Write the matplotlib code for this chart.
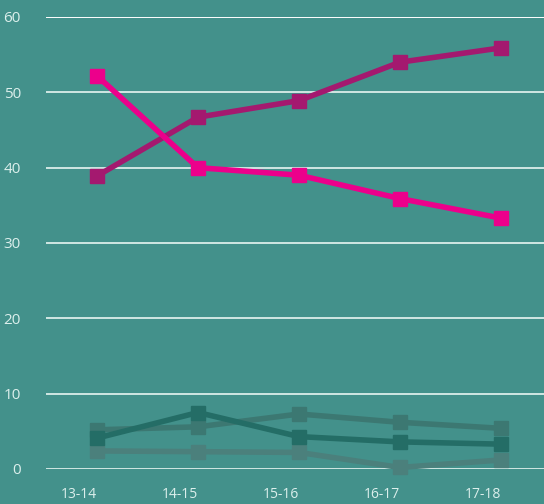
import matplotlib
matplotlib.use("Agg")
import matplotlib.pyplot as plt
import matplotlib.transforms as mtransforms

categories = ["13-14", "14-15", "15-16", "16-17", "17-18"]
pink = [52.2, 40.0, 39.0, 35.9, 33.3]
purple = [38.9, 46.7, 48.9, 54.0, 55.9]
green_dark = [4.1, 7.5, 4.3, 3.6, 3.3]
green_mid = [5.2, 5.6, 7.3, 6.2, 5.4]
green_light = [2.4, 2.3, 2.2, 0.2, 1.2]
yticks = [0, 10, 20, 30, 40, 50, 60]

bg = "#43918b"
fig = plt.figure(figsize=(5.44, 5.04), dpi=100, facecolor=bg)
W, H = 544, 504
ax = fig.add_axes([46 / W, (H - 469) / H, 1 - 46 / W, (469 - 17) / H])
ax.set_facecolor(bg)
for s in ax.spines.values():
    s.set_visible(False)

x = list(range(len(categories)))
ax.set_xlim(-0.505, 4.426)
ax.set_ylim(0, 60)

for yv in yticks:
    ax.axhline(yv, color="#dbeeea", lw=1.3, zorder=1)
ax.axhline(60, color="#ffffff", lw=1.3, zorder=1)

kw = dict(lw=4, marker="s", markersize=10.5, clip_on=False, solid_joinstyle="miter")
ax.plot(x, green_light, color="#4b807c", zorder=2, **kw)
ax.plot(x, green_mid, color="#3c7872", zorder=3, **kw)
ax.plot(x, green_dark, color="#246d66", zorder=4, **kw)
ax.plot(x, purple, color="#a4196f", zorder=5, **kw)
ax.plot(x, pink, color="#ec008b", zorder=6, **kw)

ax.set_yticks(yticks)
ax.set_yticklabels([str(v) for v in yticks])
ax.set_xticks(x)
ax.set_xticklabels(categories)
ax.tick_params(axis="both", length=0, colors="#dcefec", labelsize=10)
ax.tick_params(axis="y", labelsize=11, pad=18)
ax.tick_params(axis="x", pad=13)
for lbl in ax.get_yticklabels():
    lbl.set_fontfamily("Open Sans")
offset = mtransforms.ScaledTranslation(-18 / 100, 0, fig.dpi_scale_trans)
for lbl in ax.get_xticklabels():
    lbl.set_fontfamily("Open Sans")
    lbl.set_transform(lbl.get_transform() + offset)

fig.savefig("out.png", dpi=100, facecolor=bg)
